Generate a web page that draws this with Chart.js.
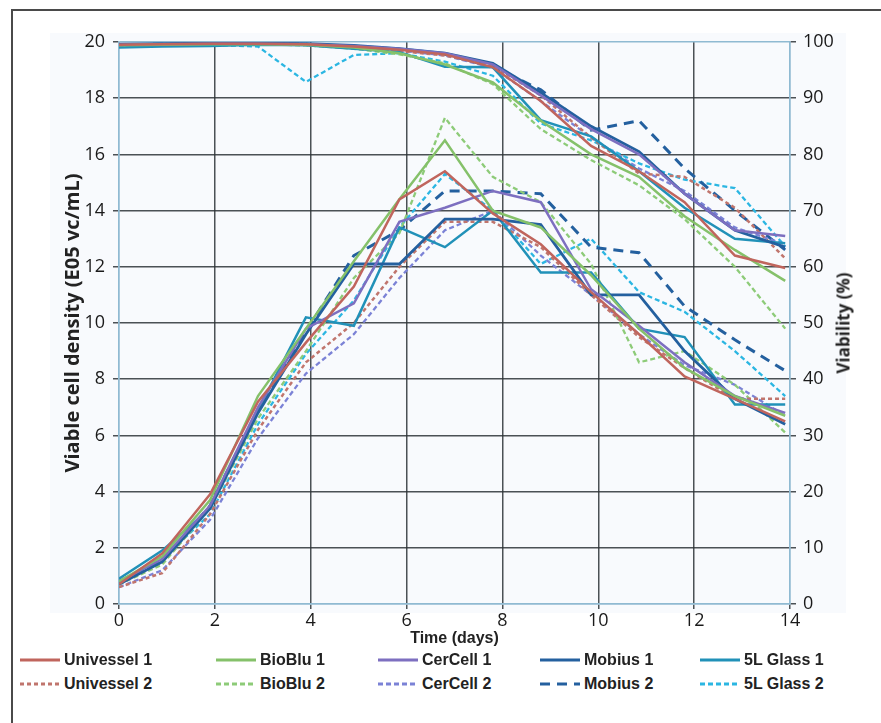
<!DOCTYPE html>
<html>
<head>
<meta charset="utf-8">
<script src="https://cdn.jsdelivr.net/npm/chart.js@4.4.0/dist/chart.umd.min.js"></script>
<style>
  body { margin: 0; width: 881px; height: 723px; background: #fff; position: relative; overflow: hidden; }
  #frame { position: absolute; left: 11px; top: 9px; width: 900px; height: 740px; border-left: 2px solid #4a4a4a; border-top: 2px solid #4a4a4a; }
  #panel { position: absolute; left: 50px; top: 33px; width: 796px; height: 580px; background: #f8fafd; }
  #wrap { position: absolute; left: 0; top: 0; width: 881px; height: 650px; }
  #rightTitle { position: absolute; left: 843px; top: 323px; transform: translate(-50%, -50%) rotate(-90deg);
    font: bold 17px "Open Sans", sans-serif; color: #222; white-space: nowrap; }
  .item { position: absolute; display: flex; align-items: center; font: bold 16px "Liberation Sans Narrow", sans-serif; color: #222; white-space: nowrap; }
  .item svg { margin-right: 4px; }
</style>
</head>
<body>
<div id="frame"></div>
<div id="panel"></div>
<div id="wrap"><canvas id="chart"></canvas></div>
<div id="rightTitle">Viability (%)</div>
<div id="legend"></div>
<script>
// time points (days)
const days = [0, 0.9, 1.9, 2.9, 3.9, 4.9, 5.85, 6.8, 7.8, 8.8, 9.85, 10.85, 11.8, 12.85, 13.9];

// viable cell density (E05 vc/mL)
const vcdUnivessel1 = [0.7, 1.8, 3.9, 7.2, 9.3, 11.3, 14.4, 15.4, 13.9, 12.8, 11.1, 9.6, 8.1, 7.3, 6.5];
const vcdBioBlu1    = [0.8, 1.7, 3.7, 7.4, 9.8, 12.2, 14.4, 16.5, 14.0, 13.4, 11.7, 9.8, 8.4, 7.4, 6.7];
const vcdCerCell1   = [0.8, 1.6, 3.5, 7.0, 9.8, 10.7, 13.6, 14.1, 14.7, 14.3, 11.2, 9.9, 8.6, 7.4, 6.8];
const vcdMobius1    = [0.7, 1.5, 3.4, 6.8, 9.6, 12.1, 12.1, 13.7, 13.7, 13.5, 11.0, 11.0, 9.0, 7.3, 6.4];
const vcdGlass1     = [0.9, 1.9, 3.4, 6.9, 10.2, 9.9, 13.4, 12.7, 14.0, 11.8, 11.8, 9.8, 9.5, 7.1, 7.1];
const vcdUnivessel2 = [0.6, 1.1, 3.2, 6.2, 8.6, 10.0, 12.0, 13.6, 13.6, 12.7, 11.0, 9.5, 8.4, 7.3, 7.3];
const vcdBioBlu2    = [0.7, 1.4, 3.4, 6.6, 9.0, 11.6, 13.2, 17.3, 15.2, 14.3, 12.1, 8.6, 9.0, 7.8, 6.1];
const vcdCerCell2   = [0.6, 1.2, 3.0, 5.9, 8.2, 9.6, 11.6, 13.3, 14.0, 12.4, 11.0, 9.6, 8.5, 7.8, 6.7];
const vcdMobius2    = [0.8, 1.5, 3.5, 6.9, 9.7, 12.4, 13.3, 14.7, 14.7, 14.6, 12.7, 12.5, 10.6, 9.4, 8.3];
const vcdGlass2     = [0.7, 1.6, 3.2, 6.4, 8.9, 10.8, 13.4, 15.3, 14.0, 12.1, 13.0, 11.1, 10.4, 9.0, 7.4];

// viability (%)
const viaUnivessel1 = [99.5, 99.6, 99.7, 99.7, 99.6, 99.2, 98.6, 97.8, 95.5, 89.5, 81.5, 77.0, 71.5, 62.0, 59.8];
const viaBioBlu1    = [99.4, 99.5, 99.6, 99.6, 99.5, 99.0, 98.0, 96.0, 92.8, 86.0, 80.0, 76.0, 69.0, 63.0, 57.5];
const viaCerCell1   = [99.5, 99.6, 99.7, 99.7, 99.6, 99.3, 98.8, 98.0, 96.0, 90.5, 84.5, 80.0, 73.0, 66.5, 65.5];
const viaMobius1    = [99.6, 99.7, 99.8, 99.8, 99.7, 99.4, 98.8, 98.0, 96.2, 91.0, 85.0, 80.5, 73.0, 66.5, 63.5];
const viaGlass1     = [99.0, 99.2, 99.3, 99.5, 99.4, 98.8, 98.2, 95.6, 95.5, 86.1, 83.2, 77.0, 70.5, 65.0, 64.2];
const viaUnivessel2 = [99.3, 99.5, 99.6, 99.7, 99.5, 99.0, 98.4, 97.6, 95.8, 90.5, 83.0, 76.6, 76.0, 70.5, 61.5];
const viaBioBlu2    = [99.2, 99.4, 99.5, 99.6, 99.4, 98.8, 97.8, 96.2, 92.5, 84.5, 79.0, 74.5, 68.5, 60.0, 49.0];
const viaCerCell2   = [99.4, 99.5, 99.6, 99.6, 99.5, 99.1, 98.5, 97.6, 95.4, 89.5, 83.0, 77.5, 73.5, 67.0, 64.0];
const viaMobius2    = [99.5, 99.6, 99.7, 99.7, 99.6, 99.2, 98.7, 97.8, 95.6, 91.5, 84.3, 86.0, 77.5, 70.0, 63.0];
const viaGlass2     = [99.3, 99.5, 99.5, 99.2, 92.9, 97.7, 98.0, 96.5, 94.0, 85.5, 82.5, 78.4, 75.5, 74.0, 63.6];

const seriesNames = ["Univessel 1", "BioBlu 1", "CerCell 1", "Mobius 1", "5L Glass 1",
                     "Univessel 2", "BioBlu 2", "CerCell 2", "Mobius 2", "5L Glass 2"];
const vcdSeries = [vcdUnivessel1, vcdBioBlu1, vcdCerCell1, vcdMobius1, vcdGlass1,
                   vcdUnivessel2, vcdBioBlu2, vcdCerCell2, vcdMobius2, vcdGlass2];
const viaSeries = [viaUnivessel1, viaBioBlu1, viaCerCell1, viaMobius1, viaGlass1,
                   viaUnivessel2, viaBioBlu2, viaCerCell2, viaMobius2, viaGlass2];

// styles
const colors = ["#c0655d", "#85c16a", "#7d6fc0", "#24609f", "#2191b8",
                "#c0756d", "#8dcb78", "#7b82d6", "#24609f", "#2bb6e2"];
const dashes = [[], [], [], [], [], [4, 3], [5, 3], [5, 3], [10, 7], [5, 3]];
const widths = [2.5, 2.5, 2.5, 2.8, 2.5, 2.5, 2.3, 2.3, 3, 2.3];

const gridDark = "rgba(45,50,55,0.85)";
const edgeBlue = "#8fbad2";

const datasets = [];
seriesNames.forEach((name, i) => {
  const common = {
    borderColor: colors[i], borderWidth: widths[i], borderDash: dashes[i],
    pointRadius: 0, tension: 0, fill: false
  };
  datasets.push(Object.assign({ label: name, yAxisID: "y",
    data: days.map((d, k) => ({ x: d, y: vcdSeries[i][k] })) }, common));
  datasets.push(Object.assign({ label: name + " viability", yAxisID: "y1",
    data: days.map((d, k) => ({ x: d, y: viaSeries[i][k] })) }, common));
});

const tickFont = { family: "'Open Sans', sans-serif", size: 18 };

new Chart(document.getElementById("chart"), {
  type: "line",
  data: { datasets },
  options: {
    responsive: true,
    maintainAspectRatio: false,
    animation: false,
    layout: { padding: { top: 42, left: 0, right: 0, bottom: 0 } },
    plugins: { legend: { display: false }, tooltip: { enabled: false } },
    scales: {
      x: {
        type: "linear", min: 0, max: 14,
        ticks: { stepSize: 2, font: tickFont, color: "#1a1a1a", padding: 1 },
        grid: { color: c => (c.tick && (c.tick.value === 0 || c.tick.value === 14)) ? edgeBlue : gridDark,
                lineWidth: 1.5, tickLength: 5, tickColor: gridDark },
        border: { color: edgeBlue, width: 1.5 },
        title: { display: true, text: "Time (days)", color: "#222",
                 font: { family: "'Liberation Sans Narrow', sans-serif", size: 16, weight: "bold" },
                 padding: { top: 0, bottom: 2 } },
        afterFit: s => { s.height = 46; }
      },
      y: {
        position: "left", min: 0, max: 20,
        ticks: { stepSize: 2, font: tickFont, color: "#1a1a1a", padding: 8 },
        grid: { color: c => (c.tick && (c.tick.value === 0 || c.tick.value === 20)) ? edgeBlue : gridDark,
                lineWidth: 1.5, tickLength: 6, tickColor: gridDark },
        border: { color: edgeBlue, width: 1.5 },
        title: { display: true, text: "Viable cell density (E05 vc/mL)", color: "#222",
                 font: { family: "'Open Sans', sans-serif", size: 20, weight: "bold" },
                 padding: { top: 61, bottom: 0 } },
        afterFit: s => { s.width = 119; }
      },
      y1: {
        position: "right", min: 0, max: 100,
        ticks: { stepSize: 10, font: tickFont, color: "#1a1a1a", padding: 7 },
        grid: { drawOnChartArea: false, tickLength: 6, tickColor: gridDark, lineWidth: 1.5 },
        border: { color: edgeBlue, width: 1.5 },
        afterFit: s => { s.width = 91; }
      }
    }
  }
});

// legend: first replicates on row 1, second replicates on row 2
const legendCols = [20, 216, 378, 540, 700];
const legendRows = [660, 684];
const legend = document.getElementById("legend");
seriesNames.forEach((name, i) => {
  const col = i % 5, row = Math.floor(i / 5);
  const item = document.createElement("div");
  item.className = "item";
  item.style.left = legendCols[col] + "px";
  item.style.top = (legendRows[row] - 11) + "px";
  item.style.height = "22px";
  item.innerHTML = `<svg width="40" height="8"><line x1="0" y1="4" x2="40" y2="4" stroke="${colors[i]}"
    stroke-width="3" stroke-dasharray="${dashes[i].join(" ") || "none"}"/></svg>${name}`;
  legend.appendChild(item);
});
</script>
</body>
</html>
